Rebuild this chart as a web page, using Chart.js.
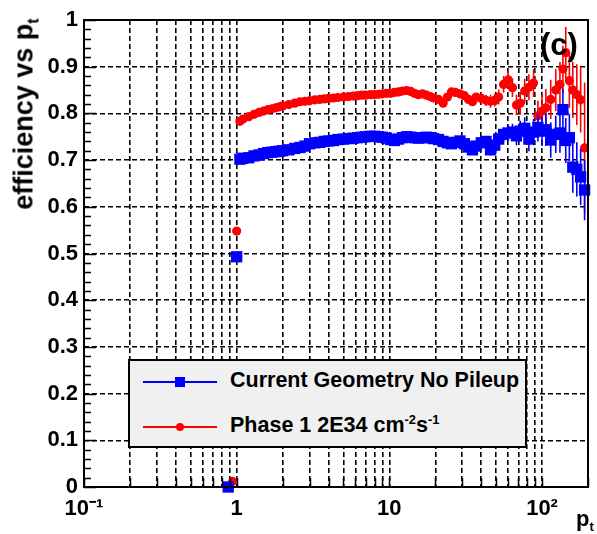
<!DOCTYPE html>
<html>
<head>
<meta charset="utf-8">
<script src="https://cdn.jsdelivr.net/npm/chart.js@4.4.1/dist/chart.umd.min.js"></script>
<style>
  html, body { margin: 0; padding: 0; background: #fff; }
  #wrap { position: relative; width: 597px; height: 534px; font-family: "Liberation Sans", Arial, sans-serif; font-weight: bold; color: #000; }
  #chart { position: absolute; left: 0; top: 0; }
  .lbl { position: absolute; white-space: nowrap; line-height: 1; }
  #ytitle { left: 24px; top: 114px; font-size: 27px; transform: translate(-50%, -50%) rotate(-90deg); }
  #ctag { left: 540px; top: 29px; font-size: 31px; }
  #xtitle { left: 576px; top: 508px; font-size: 22px; }
  sub, sup { font-size: 60%; line-height: 0; }
  #legend { position: absolute; left: 128px; top: 359px; width: 399px; height: 89px; box-sizing: border-box; background: #f0f0f0; border: 2px solid #000; }
  .row { position: absolute; left: 0; height: 0; }
  .seg { position: absolute; left: 13px; width: 74px; height: 2px; top: -1px; }
  .mk { position: absolute; }
  .txt { position: absolute; left: 100px; top: -12px; font-size: 21.5px; white-space: nowrap; line-height: 1; }
</style>
</head>
<body>
<div id="wrap">
  <canvas id="chart" width="597" height="534"></canvas>
  <div class="lbl" id="ytitle">efficiency vs p<sub>t</sub></div>
  <div class="lbl" id="ctag">(c)</div>
  <div class="lbl" id="xtitle">p<sub>t</sub></div>
  <div id="legend">
    <div class="row" style="top:21px">
      <div class="seg" style="background:#0000ff"></div>
      <div class="mk" style="left:45px;top:-5px;width:10px;height:10px;background:#0000ff"></div>
      <div class="txt">Current Geometry No Pileup</div>
    </div>
    <div class="row" style="top:66px">
      <div class="seg" style="background:#ff0000"></div>
      <div class="mk" style="left:46px;top:-4px;width:8px;height:8px;border-radius:50%;background:#ff0000"></div>
      <div class="txt">Phase 1 2E34 cm<sup>-2</sup>s<sup>-1</sup></div>
    </div>
  </div>
</div>
<script>
// pt bins (GeV) shared by both curves
const ptBins = [1.05, 1.1, 1.2, 1.3, 1.4, 1.5, 1.6, 1.7, 1.8, 1.9,
  2.0, 2.2, 2.4, 2.6, 2.8,
  3.0, 3.25, 3.5, 3.75,
  4.0, 4.3, 4.6,
  5.0, 5.4, 5.8,
  6.2, 6.6, 7.0, 7.5, 8.0, 8.5, 9.0, 9.6,
  10.2, 10.8, 11.5, 12.2, 13.0, 13.8, 14.6, 15.5, 16.5, 17.5, 18.5, 19.5,
  21, 22.5, 24, 25.5, 27, 29, 31, 33, 35, 37,
  40, 43, 46, 49, 52, 56, 60, 64,
  68, 72, 77, 82, 88, 94, 100,
  106, 114, 123, 131, 137, 143, 151, 159, 169, 179, 190];

const effNoPileup = [0.702, 0.704, 0.705, 0.709, 0.711, 0.714, 0.716, 0.717, 0.718, 0.719,
  0.720, 0.722, 0.725, 0.727, 0.730,
  0.735, 0.737, 0.738, 0.740,
  0.741, 0.742, 0.744,
  0.745, 0.746, 0.747,
  0.748, 0.749, 0.750, 0.751, 0.751, 0.750, 0.749, 0.747,
  0.744, 0.742, 0.745, 0.748, 0.750, 0.749, 0.748, 0.747, 0.748, 0.749, 0.748, 0.746,
  0.744, 0.740, 0.737, 0.735, 0.738, 0.741, 0.735, 0.728, 0.722, 0.730,
  0.737, 0.740, 0.722, 0.732, 0.745, 0.755, 0.758, 0.760,
  0.752, 0.762, 0.768, 0.745, 0.760, 0.770, 0.762,
  0.765, 0.743, 0.755, 0.758, 0.808, 0.742, 0.748, 0.685, 0.680, 0.664, 0.636];

const errNoPileup = [0.003, 0.003, 0.003, 0.003, 0.003, 0.003, 0.003, 0.003, 0.003, 0.003,
  0.003, 0.003, 0.003, 0.003, 0.003,
  0.003, 0.003, 0.003, 0.003,
  0.003, 0.003, 0.003,
  0.003, 0.003, 0.003,
  0.003, 0.003, 0.003, 0.003, 0.003, 0.003, 0.003, 0.003,
  0.003, 0.003, 0.003, 0.003, 0.003, 0.003, 0.003, 0.003, 0.003, 0.003, 0.003, 0.003,
  0.006, 0.006, 0.006, 0.006, 0.006, 0.006, 0.006, 0.006, 0.006, 0.006,
  0.010, 0.010, 0.012, 0.012, 0.014, 0.015, 0.017, 0.018,
  0.020, 0.022, 0.024, 0.026, 0.028, 0.030, 0.032,
  0.035, 0.038, 0.040, 0.042, 0.045, 0.048, 0.050, 0.055, 0.058, 0.060, 0.065];

const effPhase1 = [0.783, 0.788, 0.793, 0.798, 0.802, 0.805, 0.808, 0.810, 0.812, 0.814,
  0.816, 0.819, 0.822, 0.825, 0.826,
  0.827, 0.829, 0.830, 0.831,
  0.832, 0.833, 0.834,
  0.835, 0.836, 0.837,
  0.838, 0.839, 0.839, 0.840, 0.840, 0.841, 0.842, 0.843,
  0.843, 0.845, 0.846, 0.848, 0.849, 0.847, 0.843, 0.840, 0.842, 0.839, 0.836, 0.833,
  0.830, 0.822, 0.835, 0.846, 0.845, 0.842, 0.838, 0.830, 0.825, 0.835,
  0.832, 0.828, 0.826, 0.828, 0.835, 0.862, 0.872, 0.855,
  0.818, 0.822, 0.848, 0.856, 0.865, 0.795, 0.805,
  0.812, 0.830, 0.850, 0.862, 0.895, 0.930, 0.870, 0.850, 0.840, 0.829, 0.726];

const errPhase1 = [0.003, 0.003, 0.003, 0.003, 0.003, 0.003, 0.003, 0.003, 0.003, 0.003,
  0.003, 0.003, 0.003, 0.003, 0.003,
  0.003, 0.003, 0.003, 0.003,
  0.003, 0.003, 0.003,
  0.003, 0.003, 0.003,
  0.003, 0.003, 0.003, 0.003, 0.003, 0.003, 0.003, 0.003,
  0.003, 0.003, 0.003, 0.003, 0.003, 0.003, 0.003, 0.003, 0.003, 0.003, 0.003, 0.003,
  0.007, 0.007, 0.007, 0.007, 0.007, 0.007, 0.007, 0.007, 0.007, 0.007,
  0.012, 0.012, 0.014, 0.014, 0.016, 0.018, 0.020, 0.020,
  0.022, 0.024, 0.026, 0.028, 0.030, 0.032, 0.035,
  0.040, 0.042, 0.045, 0.048, 0.050, 0.055, 0.058, 0.060, 0.065, 0.070, 0.140];

// the few low-pt bins below threshold
const lowPtNoPileup = [0.88, 1.0];
const lowEffNoPileup = [0.0, 0.493];
const lowPtPhase1 = [0.94, 1.0];
const lowEffPhase1 = [0.012, 0.548];

// axis ticks
const xGridTicks = [0.1, 0.2, 0.3, 0.4, 0.5, 0.6, 0.7, 0.8, 0.9,
  1, 2, 3, 4, 5, 6, 7, 8, 9,
  10, 20, 30, 40, 50, 60, 70, 80, 90,
  100, 200];
const xMajorTicks = [0.1, 1, 10, 100];
const xMajorLabels = ['10\u207B\u00B9', '1', '10', '10\u00B2'];

function points(xs, ys) {
  return xs.map((x, i) => ({ x: x, y: ys[i] }));
}
function errorBars(xs, ys, es) {
  const out = [];
  xs.forEach((x, i) => {
    out.push({ x: x, y: ys[i] - es[i] }, { x: x, y: ys[i] + es[i] }, { x: x, y: null });
  });
  return out;
}

const inwardTicks = {
  id: 'inwardTicks',
  afterDatasetsDraw(chart) {
    const { ctx, chartArea: a, scales: { x, y } } = chart;
    ctx.save();
    ctx.strokeStyle = '#000';
    ctx.lineWidth = 1.5;
    ctx.beginPath();
    for (let k = 0; k <= 50; k++) {
      const py = Math.round(y.getPixelForValue(k / 50)) + 0.5;
      ctx.moveTo(a.left, py);
      ctx.lineTo(a.left + (k % 5 === 0 ? 12 : 7), py);
    }
    xGridTicks.forEach(v => {
      const px = Math.round(x.getPixelForValue(v)) + 0.5;
      ctx.moveTo(px, a.bottom);
      ctx.lineTo(px, a.bottom - 9);
    });
    ctx.stroke();
    ctx.lineWidth = 2;
    ctx.strokeRect(a.left, a.top, a.right - a.left, a.bottom - a.top);
    ctx.restore();
  }
};

const tickFont = { family: '"Liberation Sans", Arial, sans-serif', size: 22, weight: 'bold' };

new Chart(document.getElementById('chart'), {
  type: 'scatter',
  data: {
    datasets: [
      {
        label: 'Current Geometry No Pileup',
        data: points(lowPtNoPileup.concat(ptBins), lowEffNoPileup.concat(effNoPileup)),
        pointStyle: 'rect',
        pointRadius: 8,
        pointBackgroundColor: '#0000ff',
        pointBorderWidth: 0,
        showLine: false,
        clip: false
      },
      {
        label: 'err no pileup',
        data: errorBars(ptBins, effNoPileup, errNoPileup),
        showLine: true,
        spanGaps: false,
        borderColor: '#0000ff',
        borderWidth: 1.6,
        pointRadius: 0
      },
      {
        label: 'Phase 1 2E34',
        data: points(lowPtPhase1.concat(ptBins), lowEffPhase1.concat(effPhase1)),
        pointStyle: 'circle',
        pointRadius: 4.6,
        pointBackgroundColor: '#ff0000',
        pointBorderWidth: 0,
        showLine: false,
        clip: false
      },
      {
        label: 'err phase 1',
        data: errorBars(ptBins, effPhase1, errPhase1),
        showLine: true,
        spanGaps: false,
        borderColor: '#ff0000',
        borderWidth: 1.6,
        pointRadius: 0
      }
    ]
  },
  options: {
    responsive: false,
    animation: false,
    layout: { padding: { top: 20, right: 5, left: 0, bottom: 0 } },
    plugins: { legend: { display: false }, tooltip: { enabled: false } },
    scales: {
      x: {
        type: 'logarithmic',
        min: 0.1,
        max: 200,
        afterFit: s => { s.height = 47; },
        afterBuildTicks: s => { s.ticks = xGridTicks.map(v => ({ value: v })); },
        grid: { color: '#000', lineWidth: 1.6, drawTicks: false },
        border: { display: false, dash: [5, 3] },
        ticks: {
          autoSkip: false,
          maxRotation: 0,
          padding: 9,
          color: '#000',
          font: tickFont,
          callback: v => {
            const i = xMajorTicks.findIndex(m => Math.abs(m - v) < 1e-9);
            return i >= 0 ? xMajorLabels[i] : '';
          }
        }
      },
      y: {
        min: 0,
        max: 1,
        afterFit: s => { s.width = 84; },
        grid: { color: '#000', lineWidth: 1.6, drawTicks: false },
        border: { display: false, dash: [5, 3] },
        ticks: {
          stepSize: 0.1,
          padding: 6,
          color: '#000',
          font: tickFont,
          callback: v => String(Math.round(v * 10) / 10)
        }
      }
    }
  },
  plugins: [inwardTicks]
});
</script>
</body>
</html>
